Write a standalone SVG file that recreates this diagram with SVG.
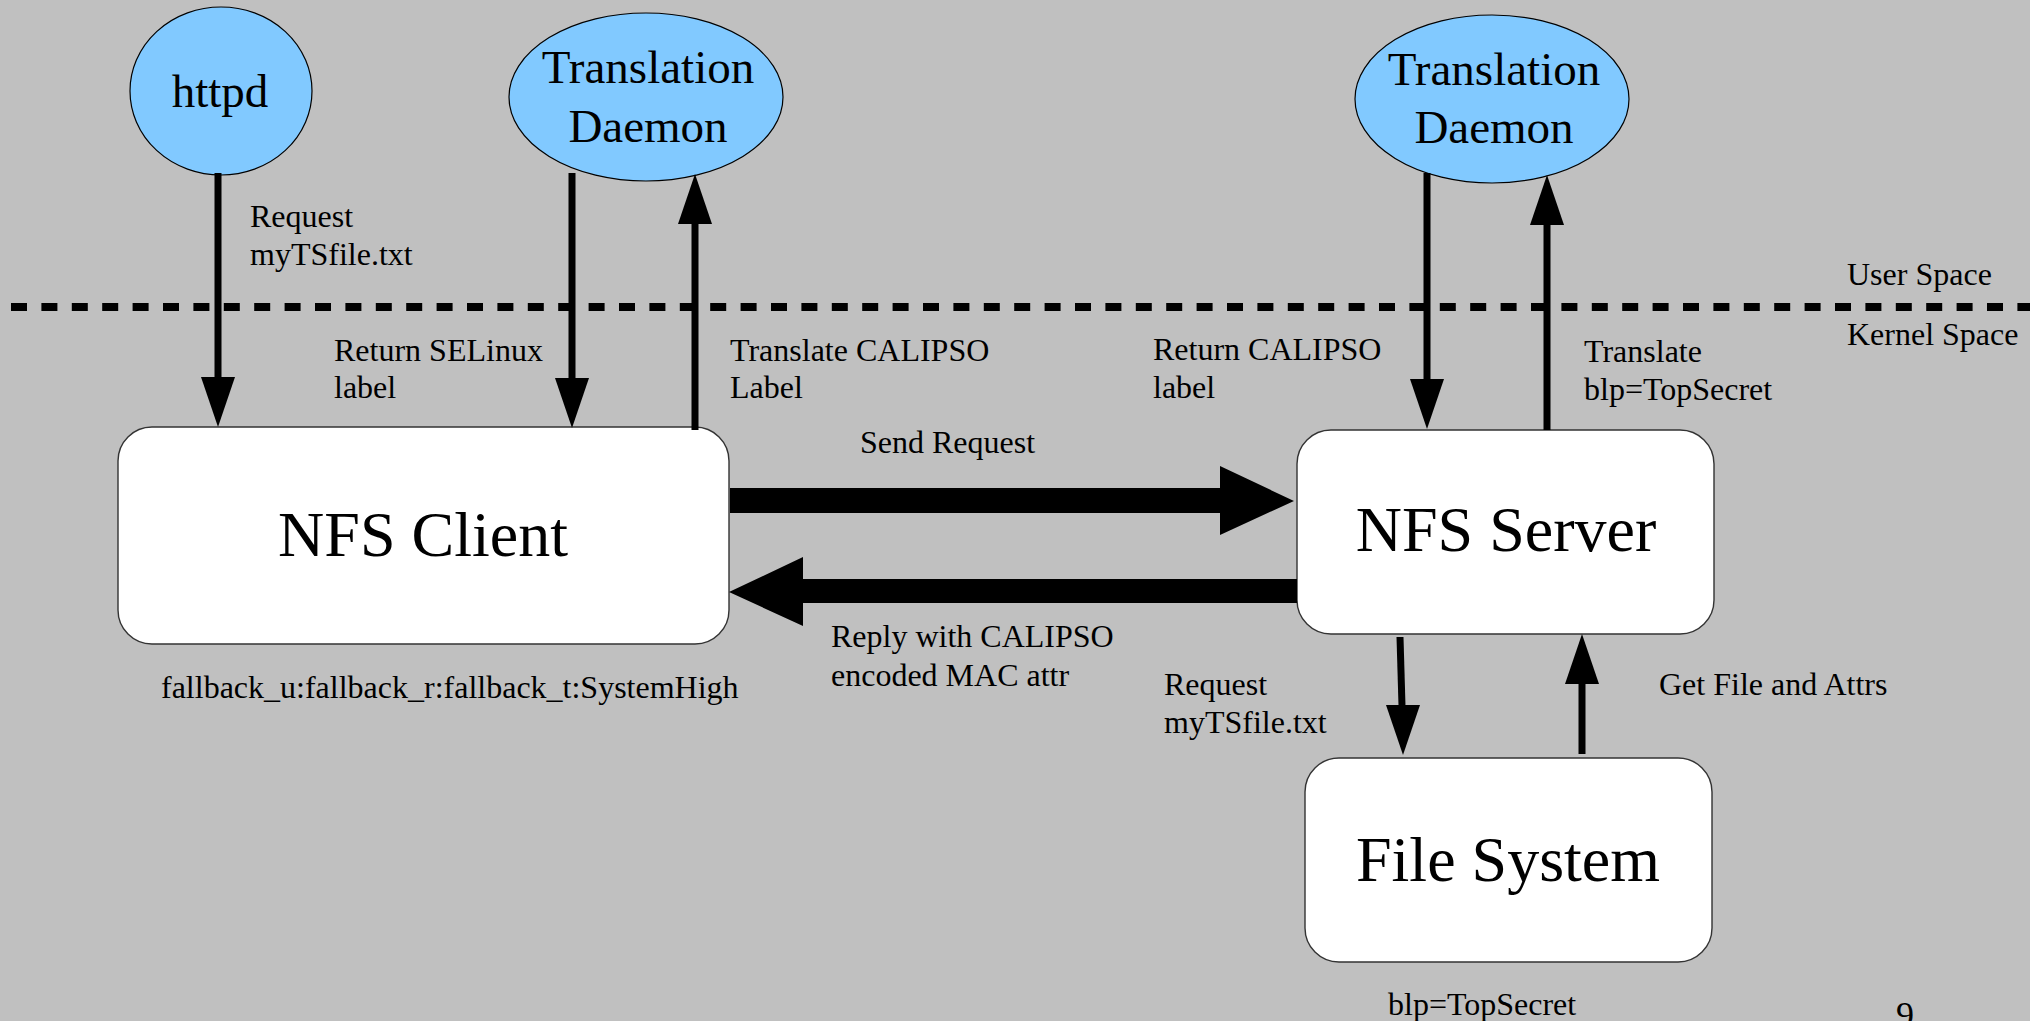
<svg xmlns="http://www.w3.org/2000/svg" width="2030" height="1021" viewBox="0 0 2030 1021">
  <style>
    .proc { fill: #81c9ff; stroke: #000; stroke-width: 1.2; }
    .box { fill: #fff; stroke: #333; stroke-width: 1.4; }
    .big { font-family: "Liberation Serif", "Times New Roman", serif; font-size: 64px; fill: #000; text-anchor: middle; }
    .mid { font-family: "Liberation Serif", "Times New Roman", serif; font-size: 47px; fill: #000; text-anchor: middle; }
    .lbl { font-family: "Liberation Serif", "Times New Roman", serif; font-size: 32px; fill: #000; }
    .shaft { stroke: #000; stroke-width: 7; fill: none; }
    .head { fill: #000; }
  </style>
  <defs>
    <!-- arrowhead pointing down, tip at origin -->
    <polygon id="headDown" class="head" points="0,0 -17,-50 17,-50"/>
    <!-- arrowhead pointing up, tip at origin -->
    <polygon id="headUp" class="head" points="0,0 -17,50 17,50"/>
  </defs>

  <rect width="2030" height="1021" fill="#c0c0c0"/>

  <!-- user / kernel boundary -->
  <line x1="11" y1="307" x2="2030" y2="307" stroke="#000" stroke-width="8" stroke-dasharray="16 14.4"/>
  <text class="lbl" x="1847" y="285">User Space</text>
  <text class="lbl" x="1847" y="345">Kernel Space</text>

  <g id="httpd">
    <ellipse class="proc" cx="221" cy="91" rx="91" ry="84"/>
    <text class="mid" x="220" y="107">httpd</text>
  </g>

  <g id="client-daemon">
    <ellipse class="proc" cx="646" cy="97" rx="137" ry="84"/>
    <text class="mid" x="648" y="83">Translation</text>
    <text class="mid" x="648" y="142">Daemon</text>
  </g>

  <g id="server-daemon">
    <ellipse class="proc" cx="1492" cy="99" rx="137" ry="84"/>
    <text class="mid" x="1494" y="85">Translation</text>
    <text class="mid" x="1494" y="143">Daemon</text>
  </g>

  <g id="nfs-client">
    <rect class="box" x="118" y="427" width="611" height="217" rx="34" ry="34"/>
    <text class="big" x="423" y="556">NFS Client</text>
    <text class="lbl" x="161" y="698">fallback_u:fallback_r:fallback_t:SystemHigh</text>
  </g>

  <g id="nfs-server">
    <rect class="box" x="1297" y="430" width="417" height="204" rx="34" ry="34"/>
    <text class="big" x="1506" y="551">NFS Server</text>
  </g>

  <g id="file-system">
    <rect class="box" x="1305" y="758" width="407" height="204" rx="34" ry="34"/>
    <text class="big" x="1508" y="881">File System</text>
    <text class="lbl" x="1388" y="1015">blp=TopSecret</text>
  </g>

  <g id="connectors">
    <!-- httpd -> client -->
    <line class="shaft" x1="218" y1="173" x2="218" y2="380"/>
    <use href="#headDown" x="218" y="427"/>
    <!-- client daemon -> client -->
    <line class="shaft" x1="572" y1="173" x2="572" y2="380"/>
    <use href="#headDown" x="572" y="428"/>
    <!-- client -> client daemon -->
    <line class="shaft" x1="695" y1="430" x2="695" y2="220"/>
    <use href="#headUp" x="695" y="174"/>
    <!-- server daemon -> server -->
    <line class="shaft" x1="1427" y1="173" x2="1427" y2="380"/>
    <use href="#headDown" x="1427" y="429"/>
    <!-- server -> server daemon -->
    <line class="shaft" x1="1547" y1="430" x2="1547" y2="220"/>
    <use href="#headUp" x="1547" y="175"/>
    <!-- server -> file system -->
    <line class="shaft" x1="1400" y1="637" x2="1402" y2="706"/>
    <use href="#headDown" x="1403" y="755"/>
    <!-- file system -> server -->
    <line class="shaft" x1="1582" y1="754" x2="1582" y2="680"/>
    <use href="#headUp" x="1582" y="634"/>
    <!-- client -> server (request) -->
    <polygon class="head" points="730,488 1220,488 1220,466 1294,501 1220,535 1220,513 730,513"/>
    <!-- server -> client (reply) -->
    <polygon class="head" points="1297,579 803,579 803,557 729,592 803,626 803,603 1297,603"/>
  </g>

  <g id="connector-labels">
    <text class="lbl" x="250" y="227">Request</text>
    <text class="lbl" x="250" y="265">myTSfile.txt</text>
    <text class="lbl" x="334" y="361">Return SELinux</text>
    <text class="lbl" x="334" y="398">label</text>
    <text class="lbl" x="730" y="361">Translate CALIPSO</text>
    <text class="lbl" x="730" y="398">Label</text>
    <text class="lbl" x="1153" y="360">Return CALIPSO</text>
    <text class="lbl" x="1153" y="398">label</text>
    <text class="lbl" x="1584" y="362">Translate</text>
    <text class="lbl" x="1584" y="400">blp=TopSecret</text>
    <text class="lbl" x="860" y="453">Send Request</text>
    <text class="lbl" x="831" y="647">Reply with CALIPSO</text>
    <text class="lbl" x="831" y="686">encoded MAC attr</text>
    <text class="lbl" x="1164" y="695">Request</text>
    <text class="lbl" x="1164" y="733">myTSfile.txt</text>
    <text class="lbl" x="1659" y="695">Get File and Attrs</text>
  </g>

  <text class="lbl" x="1896" y="1027" style="font-size:36px">9</text>
</svg>
